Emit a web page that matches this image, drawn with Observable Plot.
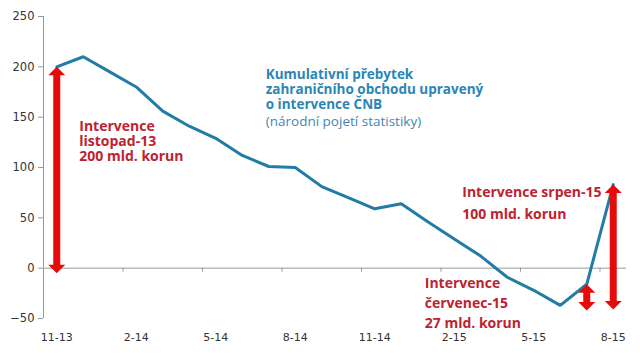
<!DOCTYPE html>
<html>
<head>
<meta charset="utf-8">
<script src="https://cdn.jsdelivr.net/npm/d3@7"></script>
<script src="https://cdn.jsdelivr.net/npm/@observablehq/plot@0.6"></script>
<style>
  html, body { margin: 0; padding: 0; background: #fff; }
</style>
</head>
<body>
<div id="chart"></div>
<script>
// ---- data ----
const months = ["11-13","12-13","1-14","2-14","3-14","4-14","5-14","6-14","7-14","8-14","9-14","10-14",
                "11-14","12-14","1-15","2-15","3-15","4-15","5-15","6-15","7-15","8-15"];
const values = [200,210,195,180,156,141,129,112,101,100,81,70,59,64,46,29,12,-9,-22,-37,-16,83];
const tickLabels = ["11-13","2-14","5-14","8-14","11-14","2-15","5-15","8-15"];
const yTicks = [-50,0,50,100,150,200,250];

const arrowMonths = ["11-13","7-15","8-15"];
const arrowFrom = [-5,-42,-41];
const arrowTo = [200,-16,83];

const titleLines = ["Kumulativní přebytek","zahraničního obchodu upravený","o intervence ČNB"];
const subtitleLine = "(národní pojetí statistiky)";
const noteNov = ["Intervence","listopad-13","200 mld. korun"];
const noteAug = ["Intervence srpen-15","100 mld. korun"];
const noteJul = ["Intervence","červenec-15","27 mld. korun"];
// annotation anchors (month, value)
const titleAnchor = ["7-14", 178];
const subtitleAnchor = ["7-14", 146];
const noteNovAnchor = ["12-13", 126];
const noteAugAnchor = ["2-15", 67];
const noteJulAnchor = ["1-15", -33];

// ---- build ----
const idx = m => months.indexOf(m);
const series = months.map((m, i) => ({i, m, v: values[i]}));
const arrows = arrowMonths.map((m, k) => ({i: idx(m), from: arrowFrom[k], to: arrowTo[k]}));
const labelIdx = tickLabels.map(idx);
const boundaryTicks = labelIdx.slice(1).map(i => i - 0.5);

const blue = "#217ca6";
const red = "#e60a0a";
const darkRed = "#bd2230";

const arrowHead = {
  draw(context, size) {
    const r = Math.sqrt(size / Math.PI);
    context.moveTo(0, 0);
    context.lineTo(r, r * 1.0);
    context.lineTo(-r, r * 1.0);
    context.closePath();
  }
};

const note = (lines, anchor) => [{t: lines.join("\n"), i: idx(anchor[0]), v: anchor[1]}];
const textBase = {x: "i", y: "v", text: "t", textAnchor: "start", lineAnchor: "middle",
                  fontFamily: "Open Sans", fontSize: 14, fontWeight: "bold"};

const chart = Plot.plot({
  width: 640,
  height: 353,
  marginLeft: 43,
  marginRight: 14,
  marginTop: 16,
  marginBottom: 35,
  style: {fontFamily: "DejaVu Sans", fontSize: "11px", color: "#333", background: "#fff"},
  x: {type: "linear", domain: [-0.5, 21.5]},
  y: {domain: [-50, 250]},
  marks: [
    Plot.ruleY([0], {stroke: "#9a9a9a", strokeWidth: 1}),
    Plot.ruleX([-0.5], {stroke: "#9a9a9a", strokeWidth: 1}),
    Plot.ruleX(boundaryTicks, {x: d => d, y1: 0, y2: 0, insetTop: 4, stroke: "#9a9a9a"}),
    Plot.axisY({ticks: yTicks, tickSize: 5, tickPadding: 4, label: null, stroke: "#9a9a9a", fill: "#333", fontSize: 11.5}),
    Plot.axisX({ticks: labelIdx, tickFormat: i => months[i], tickSize: 0, tickPadding: 15, label: null, fill: "#333", fontSize: 11}),
    Plot.line(series, {x: "i", y: "v", stroke: blue, strokeWidth: 3, strokeLinejoin: "miter"}),
    Plot.ruleX(arrows, {x: "i", y1: "to", y2: "from", stroke: red, strokeWidth: 7, insetTop: 7, insetBottom: 7}),
    Plot.dot(arrows, {x: "i", y: "to", symbol: arrowHead, r: 8.5, fill: red, stroke: null}),
    Plot.dot(arrows, {x: "i", y: "from", symbol: arrowHead, rotate: 180, r: 8.5, fill: red, stroke: null}),
    Plot.text(note(titleLines, titleAnchor), {...textBase, fontSize: 13.5, fill: "#2a86b4", dx: -3, lineHeight: 15 / 13.5}),
    Plot.text(note([subtitleLine], subtitleAnchor), {...textBase, fontSize: 13.5, fill: "#3f87b2", fontWeight: "normal", dx: -3}),
    Plot.text(note(noteNov, noteNovAnchor), {...textBase, fill: darkRed, dx: -4, lineHeight: 15 / 14}),
    Plot.text(note(noteAug, noteAugAnchor), {...textBase, fill: darkRed, dx: 8, lineHeight: 22 / 14}),
    Plot.text(note(noteJul, noteJulAnchor), {...textBase, fill: darkRed, dx: -3, lineHeight: 20 / 14})
  ]
});
document.getElementById("chart").appendChild(chart);
</script>
</body>
</html>
